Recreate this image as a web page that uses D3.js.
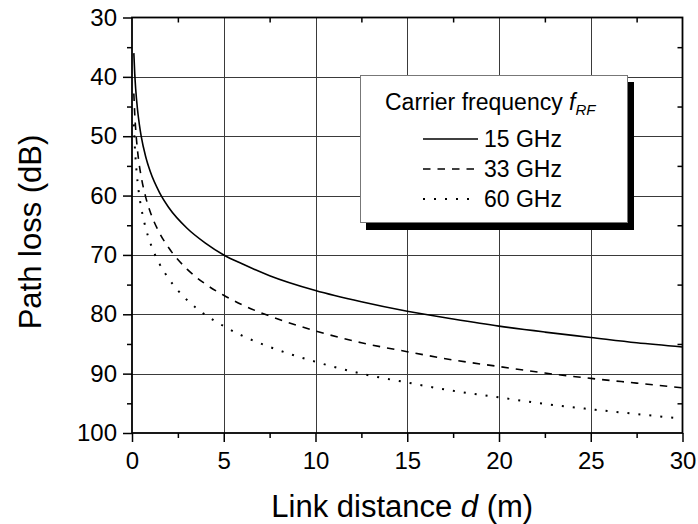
<!DOCTYPE html>
<html>
<head>
<meta charset="utf-8">
<script src="https://cdn.jsdelivr.net/npm/d3@7"></script>
<style>
  body { margin: 0; background: #fff; }
  svg text { font-family: "Liberation Sans", Arial, sans-serif; fill: #000; }
</style>
</head>
<body>
<svg id="chart" width="698" height="524"></svg>
<script>
// DATA
var dist = [0.1, 0.15, 0.2, 0.3, 0.4, 0.5, 0.75, 1, 1.5, 2, 3, 4, 5, 6, 7.5, 10, 12.5, 15, 17.5, 20, 22.5, 25, 27.5, 30];
var loss15 = [36.0, 39.5, 42.0, 45.5, 48.0, 50.0, 53.5, 56.0, 59.5, 62.0, 65.5, 68.0, 70.0, 71.5, 73.5, 76.0, 77.9, 79.5, 80.8, 82.0, 83.0, 83.9, 84.8, 85.5];
var loss33 = [42.8, 46.3, 48.8, 52.4, 54.9, 56.8, 60.3, 62.8, 66.3, 68.8, 72.4, 74.9, 76.8, 78.4, 80.3, 82.8, 84.8, 86.3, 87.7, 88.8, 89.9, 90.8, 91.6, 92.4];
var loss60 = [48.0, 51.5, 54.0, 57.6, 60.1, 62.0, 65.5, 68.0, 71.5, 74.0, 77.6, 80.1, 82.0, 83.6, 85.5, 88.0, 90.0, 91.5, 92.9, 94.0, 95.1, 96.0, 96.8, 97.6];
var seriesNames = ["15 GHz", "33 GHz", "60 GHz"];
var xTicks = [0, 5, 10, 15, 20, 25, 30];
var xMinor = [2.5, 7.5, 12.5, 17.5, 22.5, 27.5];
var yTicks = [30, 40, 50, 60, 70, 80, 90, 100];
var yMinor = [35, 45, 55, 65, 75, 85, 95];

// LAYOUT
var L = 132, R = 682.5, T = 17.5, B = 433;
var svg = d3.select('#chart');
var x = d3.scaleLinear().domain([0, 30]).range([L, R]);
var y = d3.scaleLinear().domain([30, 100]).range([T, B]);
var dashes = [null, "7.5,7", "2,9"];

// GRID
var grid = svg.append('g').attr('stroke', '#3a3a3a').attr('stroke-width', 1);
grid.selectAll('line.gx').data(xTicks.slice(1, -1)).enter().append('line')
    .attr('x1', function(d) { return Math.round(x(d)) + 0.5; })
    .attr('x2', function(d) { return Math.round(x(d)) + 0.5; })
    .attr('y1', T).attr('y2', B);
grid.selectAll('line.gy').data(yTicks.slice(1, -1)).enter().append('line')
    .attr('y1', function(d) { return Math.round(y(d)) + 0.5; })
    .attr('y2', function(d) { return Math.round(y(d)) + 0.5; })
    .attr('x1', L).attr('x2', R);

// CURVES
var series = [loss15, loss33, loss60];
var line = d3.line()
    .x(function(d) { return x(d[0]); })
    .y(function(d) { return y(d[1]); })
    .curve(d3.curveMonotoneX);
series.forEach(function(vals, s) {
    svg.append('path')
        .datum(dist.map(function(d, i) { return [d, vals[i]]; }))
        .attr('d', line)
        .attr('fill', 'none')
        .attr('stroke', '#000')
        .attr('stroke-width', s == 2 ? 2 : 1.6)
        .attr('stroke-dasharray', dashes[s]);
});

// AXES
function styleAxis(g) {
    g.select('.domain').remove();
    g.selectAll('line').attr('stroke', '#000').attr('stroke-width', 1.5);
    g.selectAll('text').style('font-size', '24px');
}
svg.append('g').attr('transform', 'translate(0,' + B + ')')
    .call(d3.axisBottom(x).tickValues(xTicks).tickSize(9).tickPadding(10))
    .call(styleAxis);
svg.append('g').attr('transform', 'translate(0,' + B + ')')
    .call(d3.axisBottom(x).tickValues(xMinor).tickSize(5).tickFormat(''))
    .call(styleAxis);
svg.append('g').attr('transform', 'translate(' + L + ',0)')
    .call(d3.axisLeft(y).tickValues(yTicks).tickSize(9).tickPadding(6))
    .call(styleAxis);
svg.append('g').attr('transform', 'translate(' + L + ',0)')
    .call(d3.axisLeft(y).tickValues(yMinor).tickSize(5).tickFormat(''))
    .call(styleAxis);
svg.append('g').attr('transform', 'translate(0,' + T + ')')
    .call(d3.axisBottom(x).tickValues(xMinor).tickSize(5).tickFormat(''))
    .call(styleAxis);
svg.append('g').attr('transform', 'translate(' + R + ',0)')
    .call(d3.axisLeft(y).tickValues(yMinor).tickSize(5).tickFormat(''))
    .call(styleAxis);

// FRAME
svg.append('rect')
    .attr('x', L).attr('y', T).attr('width', R - L).attr('height', B - T)
    .attr('fill', 'none').attr('stroke', '#000').attr('stroke-width', 1.8);

// AXIS TITLES
var xt = svg.append('text')
    .attr('x', (L + R) / 2 - 5).attr('y', 517)
    .attr('text-anchor', 'middle')
    .style('font-size', '31px');
xt.append('tspan').text('Link distance ');
xt.append('tspan').style('font-style', 'italic').text('d');
xt.append('tspan').text(' (m)');

svg.append('text')
    .attr('transform', 'translate(41,' + 232 + ') rotate(-90)')
    .attr('text-anchor', 'middle')
    .style('font-size', '31px')
    .text('Path loss (dB)');

// LEGEND
var lg = svg.append('g');
lg.append('rect').attr('x', 366).attr('y', 82).attr('width', 268).attr('height', 148).attr('fill', '#000');
lg.append('rect').attr('x', 360.5).attr('y', 75.5).attr('width', 267).attr('height', 147)
    .attr('fill', '#fff').attr('stroke', '#777').attr('stroke-width', 1);
var lt = lg.append('text').attr('x', 385).attr('y', 110).style('font-size', '23px');
lt.append('tspan').text('Carrier frequency ');
lt.append('tspan').style('font-style', 'italic').text('f');
lt.append('tspan').style('font-style', 'italic').style('font-size', '15px').attr('dy', 5).text('RF');

seriesNames.forEach(function(name, s) {
    var by = 147 + s * 30;
    lg.append('line')
        .attr('x1', 423).attr('x2', 478)
        .attr('y1', by - 8).attr('y2', by - 8)
        .attr('stroke', '#000')
        .attr('stroke-width', s == 2 ? 2 : 1.6)
        .attr('stroke-dasharray', dashes[s]);
    lg.append('text').attr('x', 484).attr('y', by)
        .style('font-size', '23px').text(name);
});
</script>
</body>
</html>
